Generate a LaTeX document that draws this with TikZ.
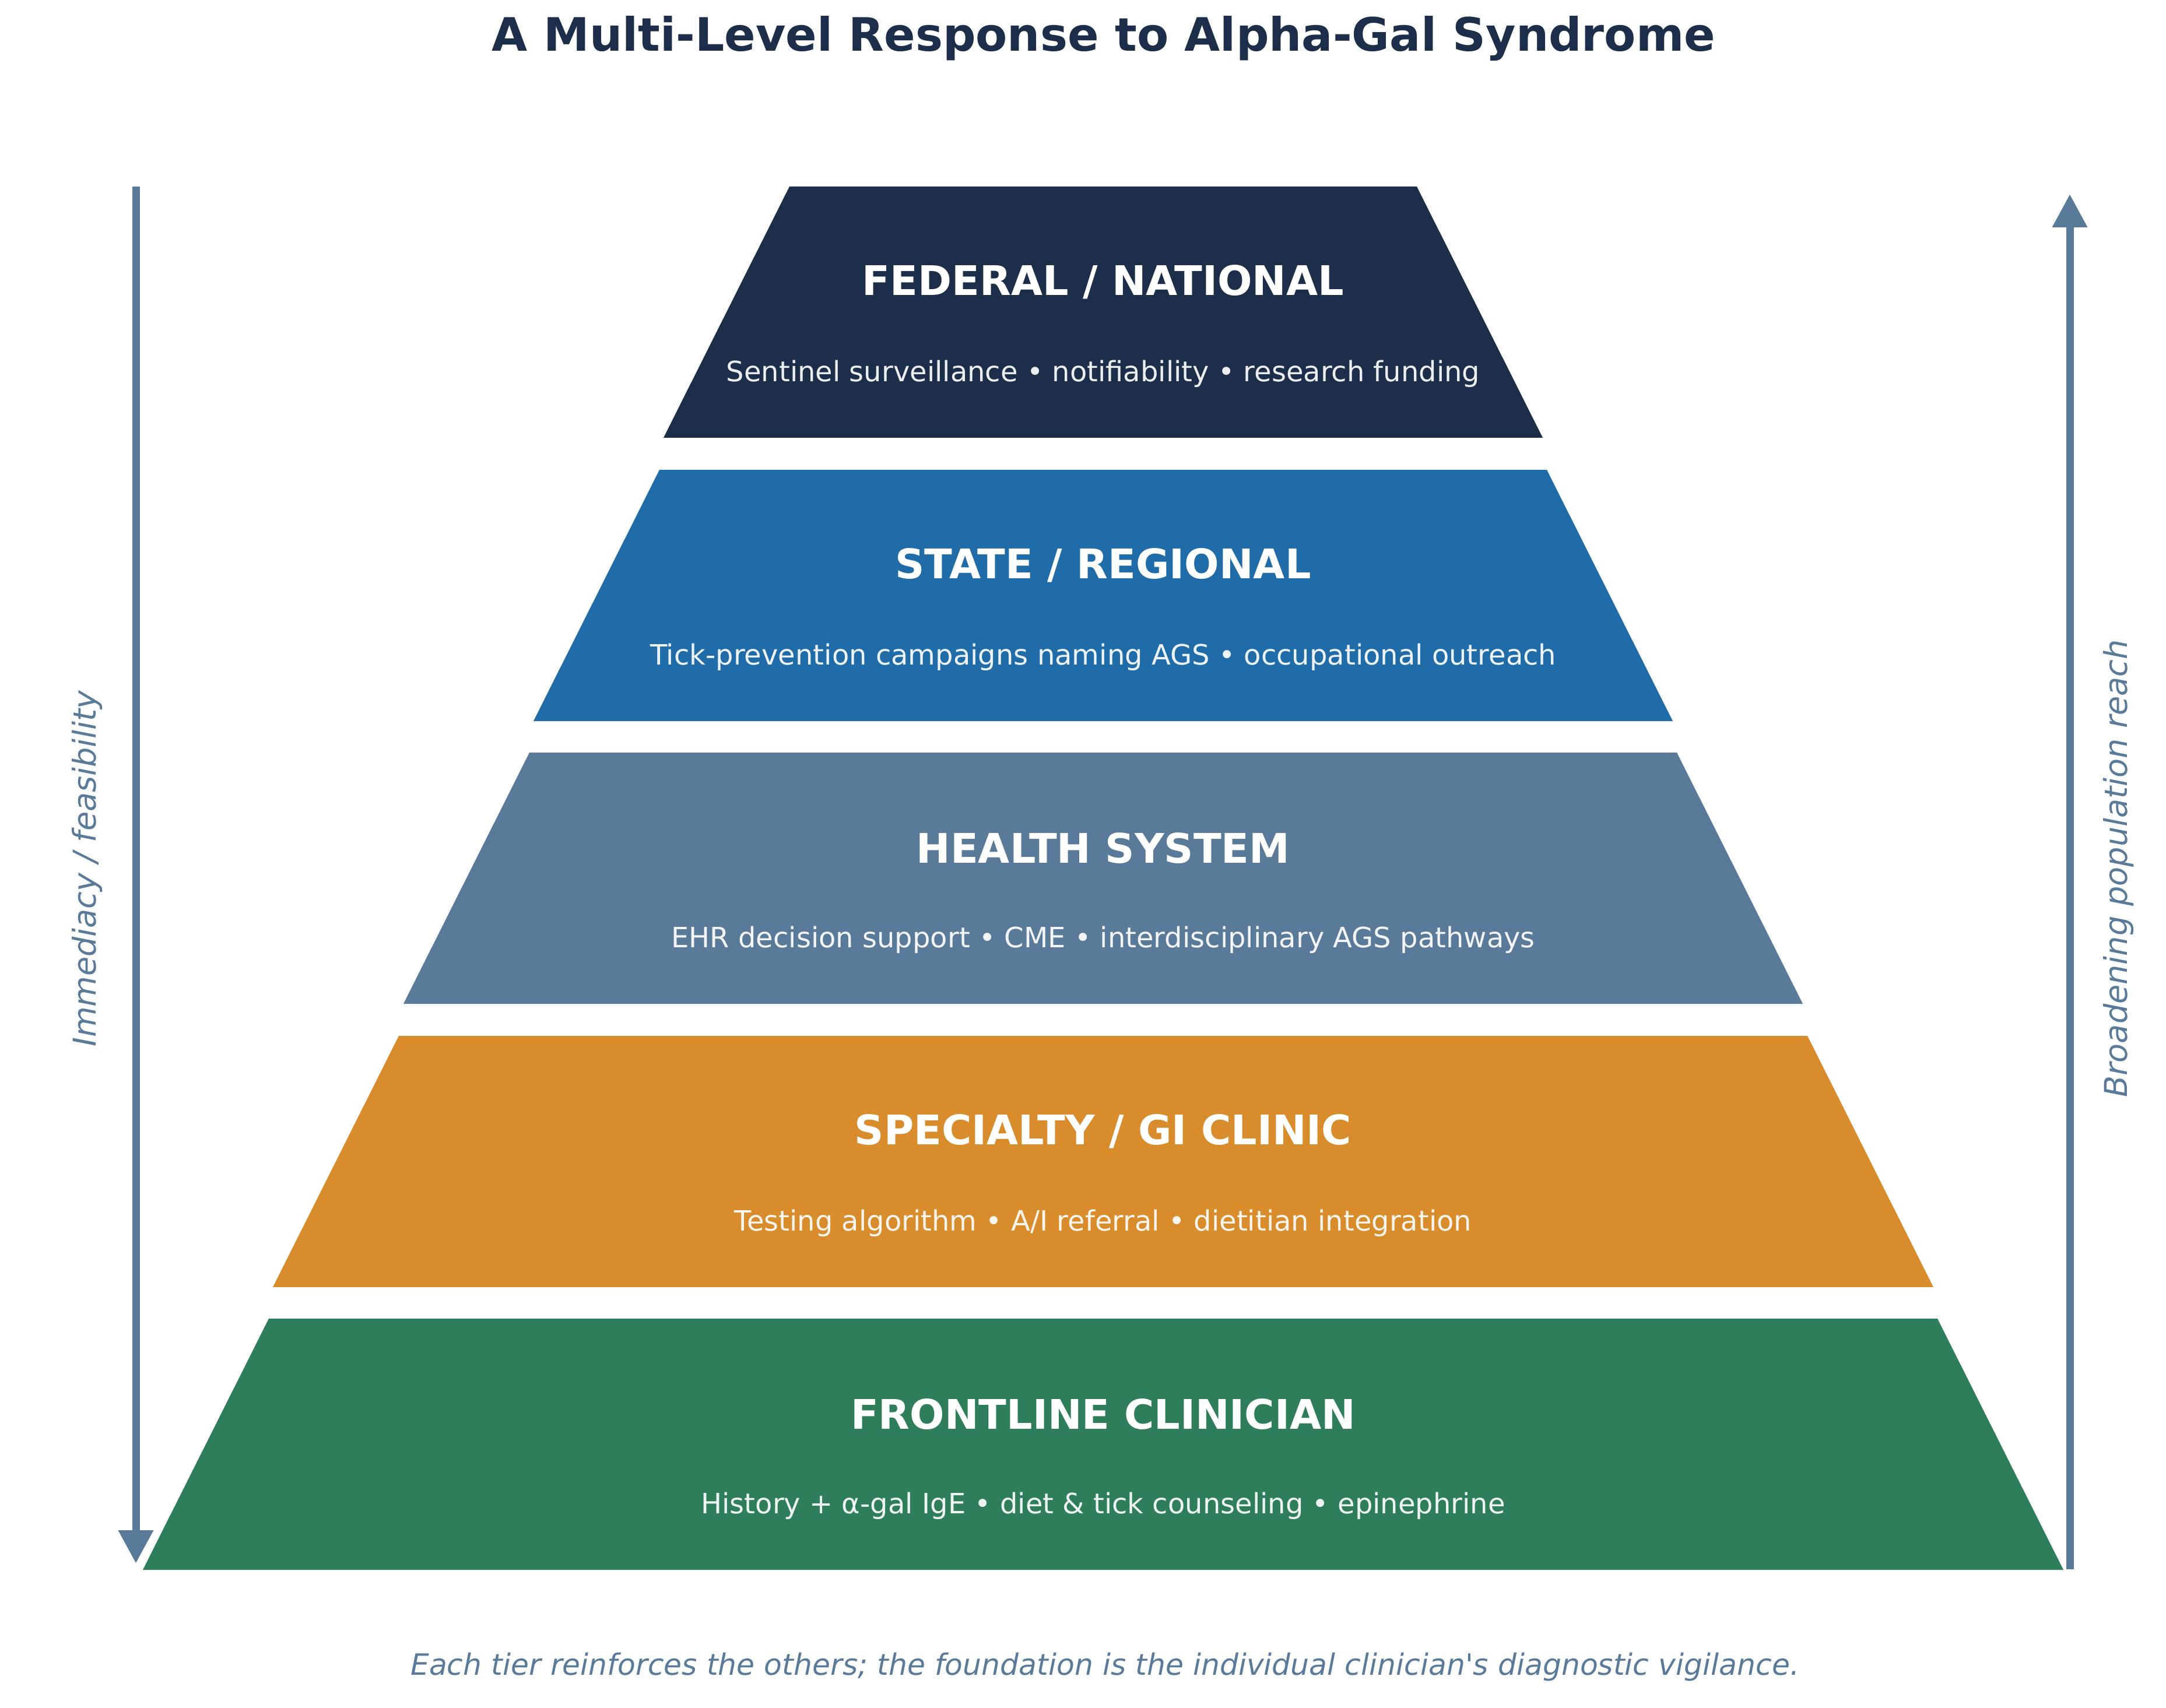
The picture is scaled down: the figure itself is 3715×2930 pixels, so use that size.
\documentclass[tikz,border=0pt]{standalone}
\usepackage{fontspec}
\setmainfont{DejaVu Sans}
\usetikzlibrary{arrows.meta,positioning}
\definecolor{navy}{HTML}{1C2E4A}
\definecolor{stateblue}{HTML}{1F6CA8}
\definecolor{slate}{HTML}{5A7A99}
\definecolor{ochre}{HTML}{D98C2B}
\definecolor{forest}{HTML}{2E7D5B}
\tikzstyle{head}=[text=white, inner sep=0pt, font=\fontsize{17.5}{21}\selectfont\bfseries]
\tikzstyle{sub}=[text=white, text opacity=0.92, inner sep=0pt, font=\fontsize{12}{14}\selectfont]
\tikzstyle{axis}=[draw=slate, line width=3.25pt, -{Triangle[length=14.25pt, width=14.25pt]}]
\tikzstyle{side}=[text=slate, inner sep=0pt, font=\fontsize{13.5}{16}\selectfont\itshape]

\begin{document}
\begin{tikzpicture}[x=0.25pt,y=-0.25pt]
		\useasboundingbox (0,0) rectangle (3715,2930);
		\node[text=navy, inner sep=0pt, font=\fontsize{19.75}{24}\selectfont\bfseries](title)at(1893,66){A Multi-Level Response to Alpha-Gal Syndrome};
		% tiers, top to bottom
		\fill[navy](1354,320)--(2430,320)--(2646,751)--(1138,751)--cycle;
		\fill[stateblue](1131,806)--(2653,806)--(2869,1237)--(915,1237)--cycle;
		\fill[slate](908,1291)--(2876,1291)--(3092,1722)--(692,1722)--cycle;
		\fill[ochre](684,1777)--(3100,1777)--(3316,2208)--(468,2208)--cycle;
		\fill[forest](461,2262)--(3323,2262)--(3539,2693)--(245,2693)--cycle;
		\node[head](fed)at(1892,484){FEDERAL / NATIONAL};
		\node[sub](fedtxt)at(1892,641){Sentinel surveillance • notifiability • research funding};
		\node[head](state)at(1892,970){STATE / REGIONAL};
		\node[sub](statetxt)at(1892,1127){Tick-prevention campaigns naming AGS • occupational outreach};
		\node[head](hs)at(1892,1455){HEALTH SYSTEM};
		\node[sub](hstxt)at(1892,1612){EHR decision support • CME • interdisciplinary AGS pathways};
		\node[head](gi)at(1892,1941){SPECIALTY / GI CLINIC};
		\node[sub](gitxt)at(1892,2098){Testing algorithm • A/I referral • dietitian integration};
		\node[head](fl)at(1892,2426){FRONTLINE CLINICIAN};
		\node[sub](fltxt)at(1892,2583){History + α-gal IgE • diet \& tick counseling • epinephrine};
		% side axes
		\coordinate(ltop)at(233,320);
		\coordinate(lbot)at(233,2682);
		\coordinate(rbot)at(3550,2692);
		\coordinate(rtop)at(3550,333);
		\draw[axis](ltop)--(lbot);
		\draw[axis](rbot)--(rtop);
		\node[side, rotate=90](immed)at(150,1490){Immediacy / feasibility};
		\node[side, rotate=90](reach)at(3634,1490){Broadening population reach};
		\node[side, font=\fontsize{12.6}{15}\selectfont\itshape](foot)at(1895,2860){Each tier reinforces the others; the foundation is the individual clinician\textquotesingle s diagnostic vigilance.};
\end{tikzpicture}
\end{document}
